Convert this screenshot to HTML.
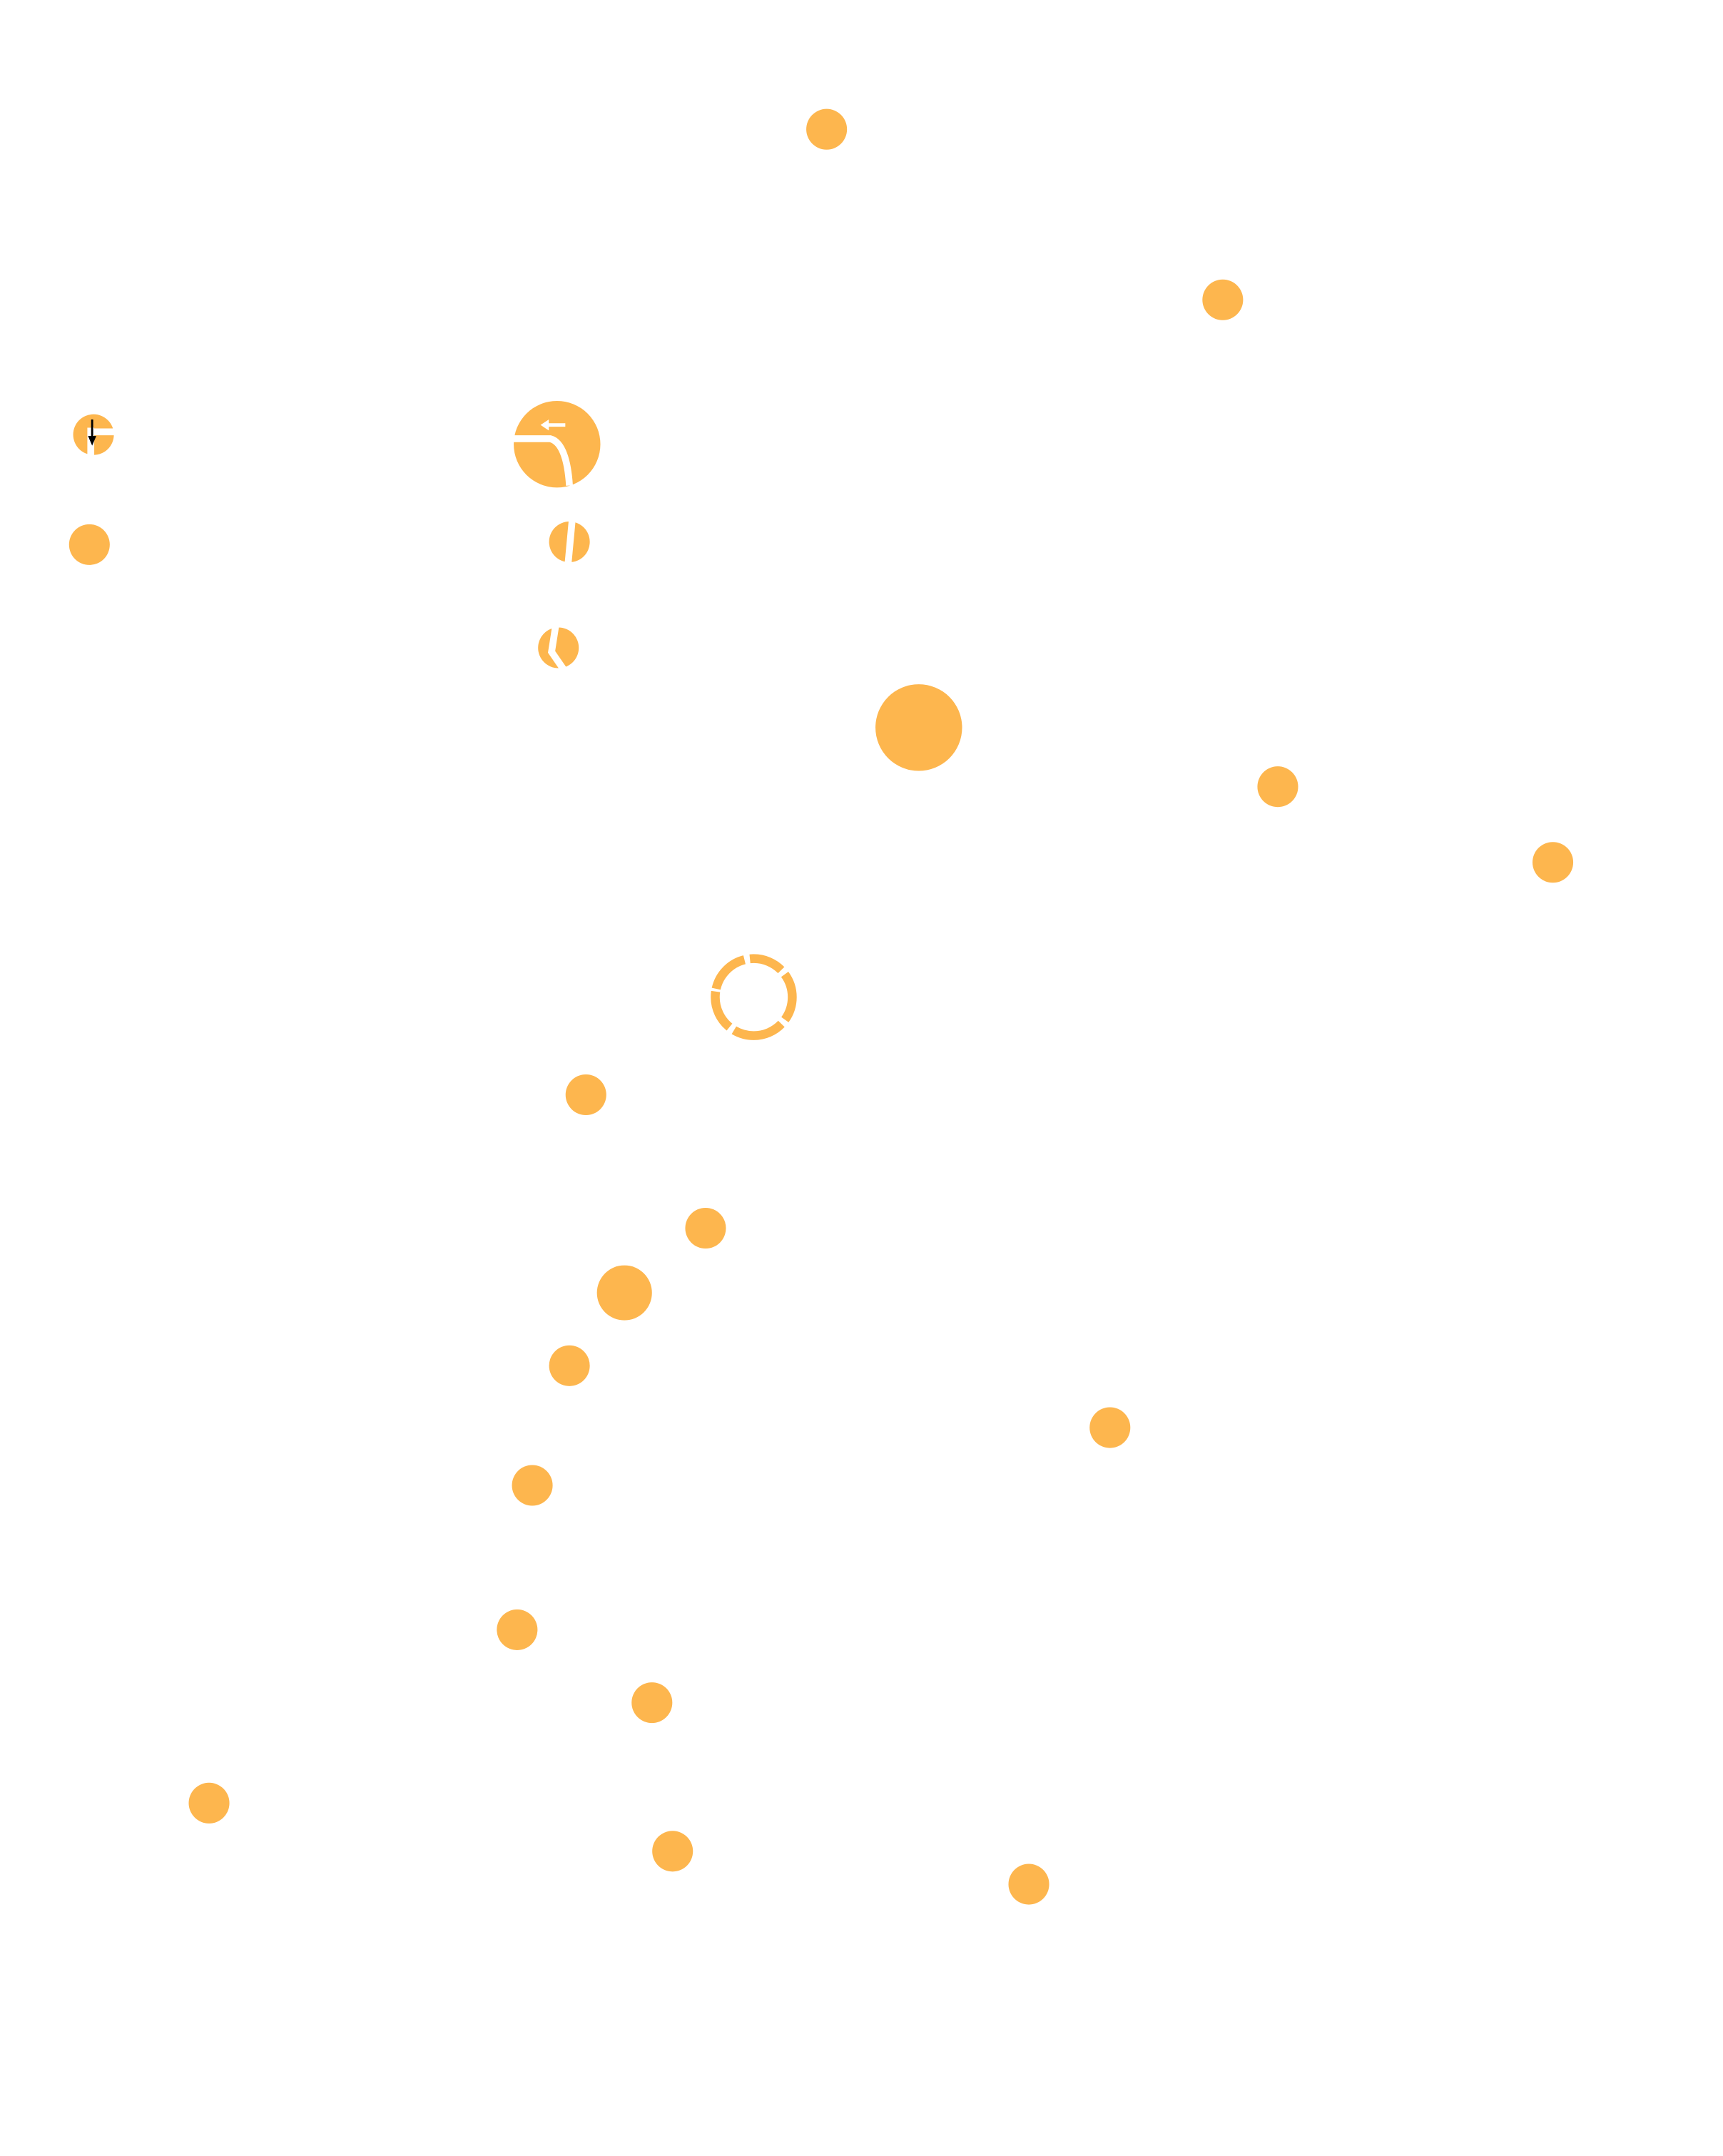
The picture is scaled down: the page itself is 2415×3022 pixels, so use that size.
<!DOCTYPE html>
<html><head><style>html,body{margin:0;padding:0;background:#fff;}svg{display:block}</style></head>
<body>
<svg width="2415" height="3022" viewBox="0 0 1252.7 1567.6" preserveAspectRatio="none" xmlns="http://www.w3.org/2000/svg">
<g fill="#FDB64E">
<circle cx="601" cy="94" r="14.8"/>
<circle cx="889" cy="218" r="14.8"/>
<circle cx="68" cy="316" r="14.8"/>
<circle cx="405" cy="323" r="31.5"/>
<circle cx="65" cy="396" r="14.8"/>
<circle cx="414" cy="394" r="14.8"/>
<circle cx="406" cy="471" r="14.8"/>
<circle cx="668" cy="529" r="31.5"/>
<circle cx="929" cy="572" r="14.8"/>
<circle cx="1129" cy="627" r="14.8"/>
<circle cx="426" cy="796" r="14.8"/>
<circle cx="513" cy="893" r="14.8"/>
<circle cx="454" cy="940" r="20"/>
<circle cx="414" cy="993" r="14.8"/>
<circle cx="807" cy="1038" r="14.8"/>
<circle cx="387" cy="1080" r="14.8"/>
<circle cx="376" cy="1185" r="14.8"/>
<circle cx="474" cy="1238" r="14.8"/>
<circle cx="152" cy="1311" r="14.8"/>
<circle cx="489" cy="1346" r="14.8"/>
<circle cx="748" cy="1370" r="14.8"/>
</g>
<circle cx="548" cy="725" r="28" fill="none" stroke="#FDB64E" stroke-width="6.5" stroke-dasharray="37.5 4 29 2 31 4 25 4 35.5 4" stroke-dashoffset="-21.5"/>
<g fill="none" stroke="#fff" stroke-width="5">
<path d="M372 319 L400 319 Q412 322 414 353"/>
<path d="M66 311 L66 332 M66 314 L84 314"/>
<path d="M416 378 L413 410"/>
<path d="M404 455 L401 474 L410 487"/>
</g>
<path d="M398 309 L411 309" stroke="#fff" stroke-width="2.5"/>
<path d="M393 309 L399 305 L399 313 Z" fill="#fff"/>
<path d="M67 305 L67 318" stroke="#000" stroke-width="1.5"/>
<path d="M64 317 L70 317 L67 324 Z" fill="#000"/>
</svg>
</body></html>
